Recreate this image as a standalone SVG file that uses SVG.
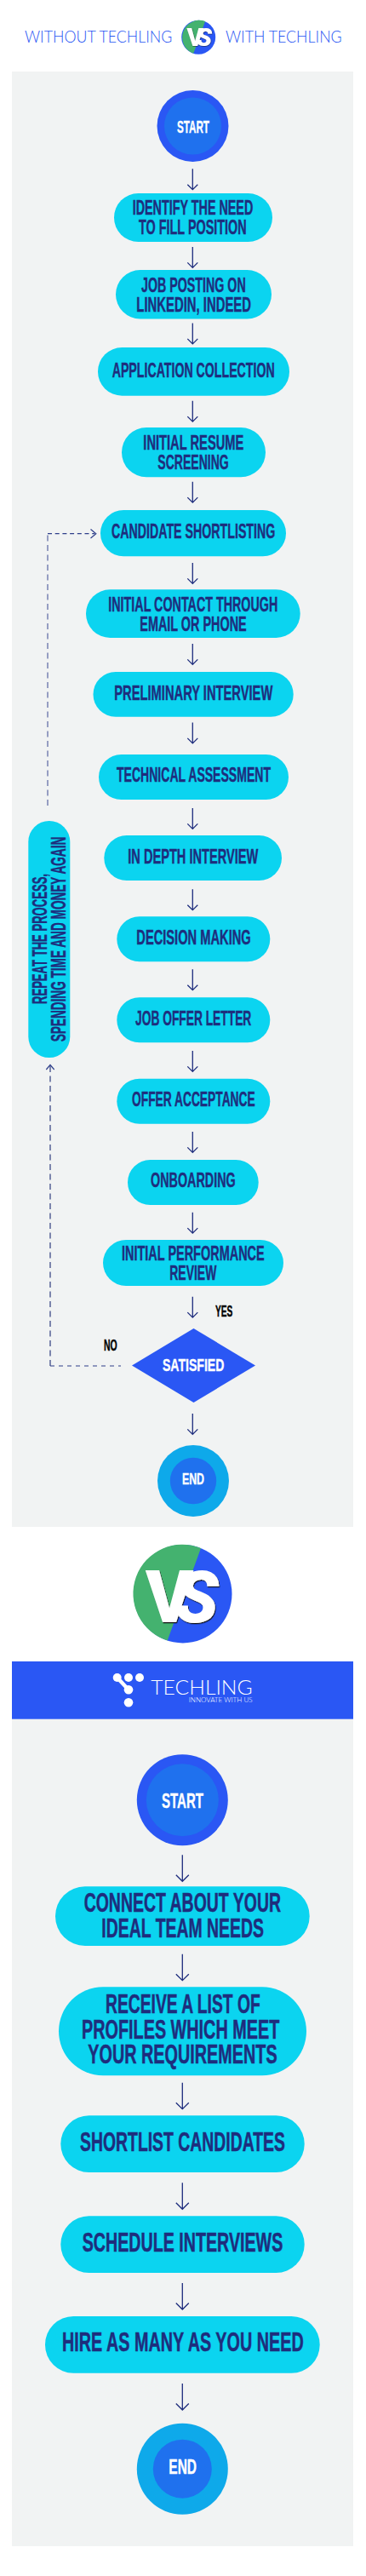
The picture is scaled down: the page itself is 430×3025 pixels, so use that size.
<svg xmlns="http://www.w3.org/2000/svg" width="430" height="3025" viewBox="0 0 430 3025">
<defs>
<style>
.panel{fill:#f1f3f3}
.pill{fill:#0bd4f0}
.t{font-family:"Liberation Sans Narrow","Liberation Sans",Arial,sans-serif;font-weight:700;fill:#1e2d7d;stroke:#1e2d7d;stroke-width:.4;font-size:23px}
.b{font-size:30.5px;stroke-width:.5}
.w{fill:#fff;stroke:#fff}
.k{fill:#000;stroke:#000;font-size:18px}
.head{font-family:Lato,"Open Sans",sans-serif;font-weight:300;fill:#2a57f4;font-size:19px}
.brand{font-family:Lato,"Open Sans",sans-serif;font-weight:300;fill:#fff}
.vs{font-family:Roboto,"Liberation Sans",sans-serif;font-weight:900;fill:#fff}
.arrow{fill:none;stroke:#1e2d7d;stroke-width:1.3}
.dash{fill:none;stroke:#2f3f8a;stroke-width:1.2}
.dv{stroke:#6f79ad;stroke-width:1.4;stroke-dasharray:7 4.5}
.dh{stroke-dasharray:5 3.7}
</style>
<filter id="shadow" x="-10%" y="-10%" width="125%" height="125%"><feDropShadow dx="0.8" dy="1.2" stdDeviation="0.2" flood-color="#111"/></filter>
<filter id="shadowS" x="-10%" y="-10%" width="125%" height="125%"><feDropShadow dx="0.3" dy="0.4" stdDeviation="0.1" flood-color="#111"/></filter>
<path id="a1" class="arrow" d="M0 0V24.4M-6 18.4L0 24.4L6 18.4"/>
<path id="a2" class="arrow" d="M0 0V31M-7.5 23.5L0 31L7.5 23.5"/>
</defs>
<rect width="430" height="3025" fill="#fff"/>
<rect class="panel" x="14" y="84" width="401" height="1709"/>
<rect class="panel" x="14" y="2018" width="401" height="972"/>
<g id="heading">
<text class="head" x="29" y="50" textLength="173.3" lengthAdjust="spacingAndGlyphs">WITHOUT TECHLING</text>
<text class="head" x="265" y="50" textLength="136.7" lengthAdjust="spacingAndGlyphs">WITH TECHLING</text>
</g>
<g id="vs-small">
<circle cx="233.2" cy="43.7" r="20" fill="#2a57f4"/>
<path d="M241.1 25A20 20 0 1 0 227.3 62.8Z" fill="#44b26f"/>
<text class="vs" font-size="29.5" y="54" x="219.5" letter-spacing="-8" filter="url(#shadowS)">V<tspan font-style="italic">S</tspan></text>
</g>
<g id="connectors">
<use href="#a1" x="226.3" y="198.3"/>
<use href="#a1" x="226.3" y="290"/>
<use href="#a1" x="226.3" y="379.5"/>
<use href="#a1" x="226.3" y="470.7"/>
<use href="#a1" x="226.3" y="565.7"/>
<use href="#a1" x="226.3" y="661"/>
<use href="#a1" x="226.3" y="756"/>
<use href="#a1" x="226.3" y="848.5"/>
<use href="#a1" x="226.3" y="949"/>
<use href="#a1" x="226.3" y="1044.3"/>
<use href="#a1" x="226.3" y="1138.3"/>
<use href="#a1" x="226.3" y="1234"/>
<use href="#a1" x="226.3" y="1329"/>
<use href="#a1" x="226.3" y="1423.7"/>
<use href="#a1" x="226.3" y="1522.7"/>
<use href="#a1" x="226.3" y="1660"/>
<path class="dash dv" d="M56 946V627"/>
<path class="dash dh" d="M56 626.7H111"/>
<path class="dash" d="M106.5 621.5L112.8 626.7L106.5 632"/>
<path class="dash dv" style="stroke:#4a568f" d="M59 1604V1252"/>
<path class="dash dh" style="stroke-dasharray:5 5" d="M59 1604H142"/>
<path class="dash" d="M54.3 1256L59 1250.5L63.7 1256"/>
<use href="#a2" x="214.3" y="2178.3"/>
<use href="#a2" x="214.3" y="2294.7"/>
<use href="#a2" x="214.3" y="2445.7"/>
<use href="#a2" x="214.3" y="2563.3"/>
<use href="#a2" x="214.3" y="2681"/>
<use href="#a2" x="214.3" y="2799"/>
</g>
<g id="start-1">
<circle cx="226.5" cy="148" r="42" fill="#2a57f4"/>
<circle cx="226.5" cy="148" r="33.5" fill="#1f71ee"/>
<text class="t w" style="font-size:20px" x="208" y="156" textLength="38" lengthAdjust="spacingAndGlyphs">START</text>
</g>
<g id="identify">
<rect class="pill" x="134" y="227" width="186" height="57" rx="28.5"/>
<text class="t" x="155.7" y="252" textLength="141.6" lengthAdjust="spacingAndGlyphs">IDENTIFY THE NEED</text>
<text class="t" x="163" y="275" textLength="126.7" lengthAdjust="spacingAndGlyphs">TO FILL POSITION</text>
</g>
<g id="job-posting">
<rect class="pill" x="136" y="317" width="183" height="57.5" rx="28.7"/>
<text class="t" x="166" y="342.7" textLength="122.7" lengthAdjust="spacingAndGlyphs">JOB POSTING ON</text>
<text class="t" x="160.3" y="365.7" textLength="134.7" lengthAdjust="spacingAndGlyphs">LINKEDIN, INDEED</text>
</g>
<g id="application">
<rect class="pill" x="115" y="408" width="225" height="56.7" rx="28.3"/>
<text class="t" x="131.7" y="443.3" textLength="191" lengthAdjust="spacingAndGlyphs">APPLICATION COLLECTION</text>
</g>
<g id="resume">
<rect class="pill" x="143" y="502" width="169" height="58.3" rx="29"/>
<text class="t" x="168.3" y="528.3" textLength="118" lengthAdjust="spacingAndGlyphs">INITIAL RESUME</text>
<text class="t" x="185.3" y="551.3" textLength="83.4" lengthAdjust="spacingAndGlyphs">SCREENING</text>
</g>
<g id="shortlisting">
<rect class="pill" x="118" y="599" width="218" height="54.3" rx="27.1"/>
<text class="t" x="131" y="631.7" textLength="192.3" lengthAdjust="spacingAndGlyphs">CANDIDATE SHORTLISTING</text>
</g>
<g id="contact">
<rect class="pill" x="101" y="692.3" width="251.7" height="56.7" rx="28.3"/>
<text class="t" x="127.3" y="717.7" textLength="199" lengthAdjust="spacingAndGlyphs">INITIAL CONTACT THROUGH</text>
<text class="t" x="164.3" y="740.7" textLength="125.4" lengthAdjust="spacingAndGlyphs">EMAIL OR PHONE</text>
</g>
<g id="preliminary">
<rect class="pill" x="109.5" y="789" width="235.2" height="52.7" rx="26.3"/>
<text class="t" x="134.3" y="821.7" textLength="186" lengthAdjust="spacingAndGlyphs">PRELIMINARY INTERVIEW</text>
</g>
<g id="technical">
<rect class="pill" x="116" y="886" width="223" height="53" rx="26.5"/>
<text class="t" x="137" y="918.3" textLength="181" lengthAdjust="spacingAndGlyphs">TECHNICAL ASSESSMENT</text>
</g>
<g id="in-depth">
<rect class="pill" x="122.3" y="981" width="208.7" height="53" rx="26.5"/>
<text class="t" x="150.3" y="1013.7" textLength="153" lengthAdjust="spacingAndGlyphs">IN DEPTH INTERVIEW</text>
</g>
<g id="decision">
<rect class="pill" x="137.3" y="1076.3" width="180" height="53" rx="26.5"/>
<text class="t" x="160.3" y="1108.7" textLength="134.4" lengthAdjust="spacingAndGlyphs">DECISION MAKING</text>
</g>
<g id="offer-letter">
<rect class="pill" x="137.3" y="1171.3" width="180" height="53" rx="26.5"/>
<text class="t" x="159" y="1203.7" textLength="136.3" lengthAdjust="spacingAndGlyphs">JOB OFFER LETTER</text>
</g>
<g id="acceptance">
<rect class="pill" x="137.3" y="1266.7" width="180" height="53" rx="26.5"/>
<text class="t" x="155" y="1299" textLength="144.7" lengthAdjust="spacingAndGlyphs">OFFER ACCEPTANCE</text>
</g>
<g id="onboarding">
<rect class="pill" x="150" y="1362" width="153.7" height="53" rx="26.5"/>
<text class="t" x="177" y="1394.3" textLength="99.7" lengthAdjust="spacingAndGlyphs">ONBOARDING</text>
</g>
<g id="performance">
<rect class="pill" x="121" y="1456" width="212" height="54" rx="27"/>
<text class="t" x="143" y="1480.3" textLength="167.7" lengthAdjust="spacingAndGlyphs">INITIAL PERFORMANCE</text>
<text class="t" x="199.3" y="1503.3" textLength="55" lengthAdjust="spacingAndGlyphs">REVIEW</text>
</g>
<g id="satisfied">
<path d="M227.5 1560L300 1603.5L227.5 1647L155 1603.5Z" fill="#2a57f4"/>
<text class="t w" style="font-size:21px" x="191" y="1609.7" textLength="72.3" lengthAdjust="spacingAndGlyphs">SATISFIED</text>
</g>
<g id="labels">
<text class="t k" x="253" y="1546" textLength="20.3" lengthAdjust="spacingAndGlyphs">YES</text>
<text class="t k" x="122" y="1585.7" textLength="15.7" lengthAdjust="spacingAndGlyphs">NO</text>
</g>
<g id="repeat">
<rect class="pill" x="33.3" y="964" width="49" height="278" rx="24.5"/>
<text class="t" transform="rotate(-90 55 1179)" x="55" y="1179" textLength="153" lengthAdjust="spacingAndGlyphs">REPEAT THE PROCESS,</text>
<text class="t" transform="rotate(-90 77.3 1223.3)" x="77.3" y="1223.3" textLength="240.6" lengthAdjust="spacingAndGlyphs">SPENDING TIME AND MONEY AGAIN</text>
</g>
<g id="end-1">
<circle cx="227" cy="1739" r="42" fill="#0ea9ea"/>
<circle cx="227" cy="1739" r="27.2" fill="#1f71ee"/>
<text class="t w" style="font-size:18.5px" x="214" y="1743.3" textLength="26" lengthAdjust="spacingAndGlyphs">END</text>
</g>
<g id="vs-large">
<circle cx="214.8" cy="1871.7" r="57.7" fill="#2a57f4"/>
<path d="M236 1818A57.7 57.7 0 1 0 196.7 1926.4Z" fill="#44b26f"/>
<text class="vs" font-size="85" y="1905" x="171" letter-spacing="-22" filter="url(#shadow)">V<tspan font-style="italic">S</tspan></text>
</g>
<g id="techling-banner">
<rect x="14" y="1951" width="401" height="67.7" fill="#2a57f4"/>
<path d="M137.7 1970L151 1984.3" stroke="#fff" stroke-width="4.5"/>
<g fill="#fff">
<circle cx="137.7" cy="1970" r="5"/>
<circle cx="151" cy="1970" r="5"/>
<circle cx="164" cy="1970" r="5"/>
<circle cx="151" cy="1984.3" r="5.3"/>
<circle cx="151" cy="1999.3" r="5.3"/>
</g>
<text class="brand" font-size="24" x="177.3" y="1989.7" textLength="119.4" lengthAdjust="spacingAndGlyphs">TECHLING</text>
<text class="brand" font-size="7.5" x="221.7" y="1999.3" textLength="75" lengthAdjust="spacingAndGlyphs">INNOVATE WITH US</text>
</g>
<g id="start-2">
<circle cx="214.3" cy="2113.7" r="53.5" fill="#2a57f4"/>
<circle cx="214.3" cy="2113.7" r="42.5" fill="#1f71ee"/>
<text class="t w" style="font-size:24px" x="190" y="2123.3" textLength="49" lengthAdjust="spacingAndGlyphs">START</text>
</g>
<g id="connect">
<rect class="pill" x="65" y="2215.3" width="298.7" height="69.7" rx="34.8"/>
<text class="t b" x="98.7" y="2245.3" textLength="231.3" lengthAdjust="spacingAndGlyphs">CONNECT ABOUT YOUR</text>
<text class="t b" x="119.3" y="2274.7" textLength="190.7" lengthAdjust="spacingAndGlyphs">IDEAL TEAM NEEDS</text>
</g>
<g id="receive">
<rect class="pill" x="69" y="2333.3" width="291" height="104" rx="52"/>
<text class="t b" x="124" y="2364.3" textLength="181.7" lengthAdjust="spacingAndGlyphs">RECEIVE A LIST OF</text>
<text class="t b" x="96" y="2393.7" textLength="232.3" lengthAdjust="spacingAndGlyphs">PROFILES WHICH MEET</text>
<text class="t b" x="103.3" y="2423" textLength="222.4" lengthAdjust="spacingAndGlyphs">YOUR REQUIREMENTS</text>
</g>
<g id="shortlist">
<rect class="pill" x="71.3" y="2484.3" width="286.4" height="66.7" rx="33.3"/>
<text class="t b" x="94" y="2525.7" textLength="241" lengthAdjust="spacingAndGlyphs">SHORTLIST CANDIDATES</text>
</g>
<g id="schedule">
<rect class="pill" x="71.3" y="2602.3" width="286.4" height="66.7" rx="33.3"/>
<text class="t b" x="96.7" y="2644" textLength="235.6" lengthAdjust="spacingAndGlyphs">SCHEDULE INTERVIEWS</text>
</g>
<g id="hire">
<rect class="pill" x="53" y="2720" width="322.7" height="66.7" rx="33.3"/>
<text class="t b" x="73" y="2761.3" textLength="283.7" lengthAdjust="spacingAndGlyphs">HIRE AS MANY AS YOU NEED</text>
</g>
<g id="end-2">
<circle cx="214.3" cy="2899.2" r="53.5" fill="#0ea9ea"/>
<circle cx="214.3" cy="2899.2" r="34.5" fill="#1f71ee"/>
<text class="t w" style="font-size:24px" x="198.3" y="2904.7" textLength="32.7" lengthAdjust="spacingAndGlyphs">END</text>
</g>
</svg>
